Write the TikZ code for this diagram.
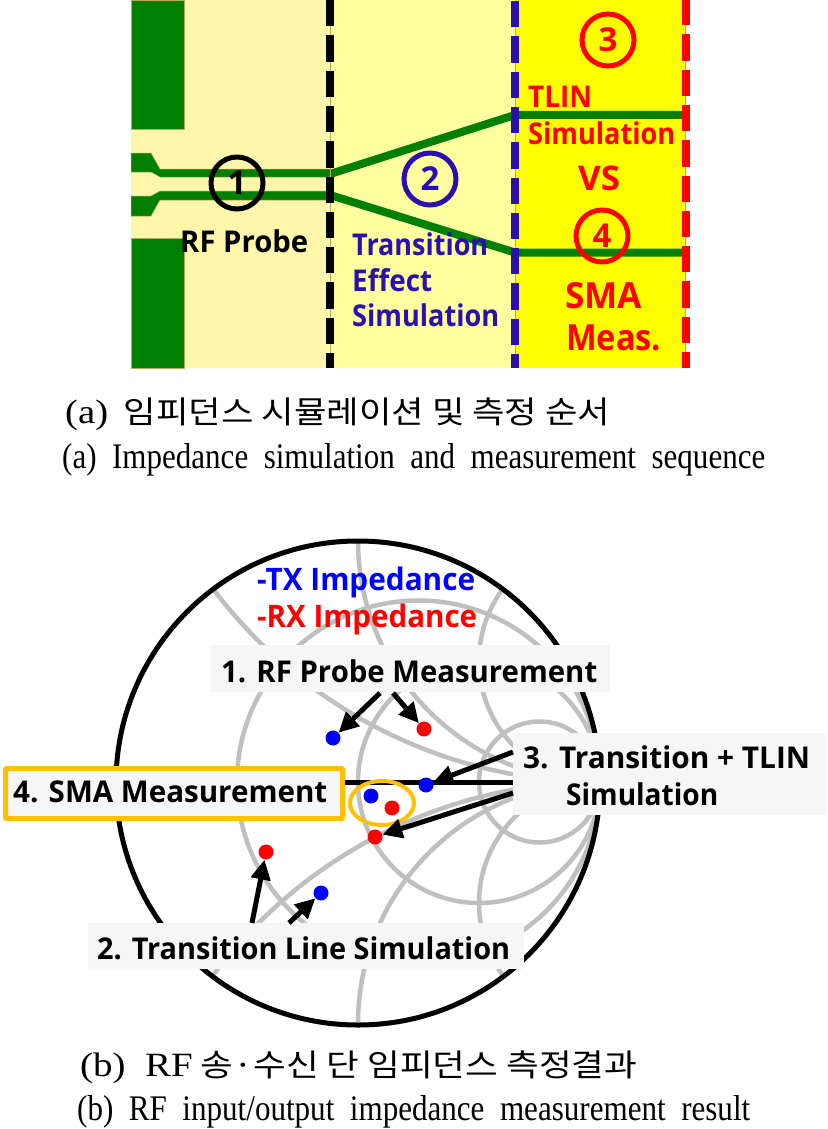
\documentclass[tikz,border=0pt]{standalone}
\usepackage{fontspec}
\usepackage{graphicx}
\usetikzlibrary{arrows.meta,shapes.geometric}
\setmainfont{Liberation Serif}
\newfontfamily\lab{Open Sans}
\newfontfamily\kr{Noto Sans CJK KR}
\newfontfamily\capser{Liberation Serif}
\newcommand{\fitx}[2]{\resizebox{#1pt}{\height}{#2}}
\definecolor{padgreen}{HTML}{008000}
\definecolor{bandA}{HTML}{FFF5AB}
\definecolor{bandB}{HTML}{FFFFA0}
\definecolor{bandC}{HTML}{FFFF00}
\definecolor{navy2}{HTML}{2A10B0}
\definecolor{tan2}{HTML}{B8A860}
\definecolor{smithgray}{HTML}{BFBFBF}
\definecolor{gold}{HTML}{FFC000}
\definecolor{boxgray}{HTML}{F6F6F6}
\tikzset{
  padshape/.style={fill=padgreen,draw=tan2,line width=0.5pt},
  trace/.style={draw=padgreen,line width=8pt},
  divider/.style={line width=8pt,dash pattern=on 26.3pt off 9pt},
  guide/.style={draw=tan2,line width=1pt},
  ringmark/.style={circle,line width=5pt,minimum size=52pt,inner sep=0pt,font=\lab\bfseries\fontsize{33}{33}\selectfont},
  ptxt/.style={anchor=west,inner sep=0pt,font=\lab\bfseries\fontsize{30}{30}\selectfont},
  capen/.style={anchor=west,inner sep=0pt,font=\capser\fontsize{36}{36}\selectfont},
  capkr/.style={anchor=west,inner sep=0pt,font=\kr\fontsize{31}{31}\selectfont},
  smith/.style={draw=smithgray,line width=4.5pt},
  outer/.style={draw=black,line width=5pt},
  lblbox/.style={fill=boxgray,inner sep=0pt,anchor=north west},
  dotb/.style={circle,fill=blue,minimum size=15pt,inner sep=0pt},
  dotr/.style={circle,fill=red,minimum size=15pt,inner sep=0pt},
  callout/.style={draw=black,line width=5pt,-{Triangle[length=20pt,width=19pt]}}
}
\begin{document}
\begin{tikzpicture}[x=1pt,y=-1pt]
\useasboundingbox (0,0) rectangle (827,1129);
\fill[white] (0,0) rectangle (827,1129);
% ---------- panel (a)
\fill[bandA] (131,0) rectangle (328,368);
\fill[bandB] (328,0) rectangle (515,368);
\fill[bandC] (515,0) rectangle (685,368);
\filldraw[padshape] (131,0) rectangle (184,129);
\filldraw[padshape] (131,238) rectangle (184,368);
\filldraw[padshape] (131,153) -- (151,153) -- (160,169) -- (330,169) -- (330,177) -- (160,177) -- (151,172) -- (131,172) -- cycle;
\filldraw[padshape] (131,196) -- (151,196) -- (160,191) -- (330,191) -- (330,200) -- (160,200) -- (151,216) -- (131,216) -- cycle;
\coordinate (upA) at (330,174);
\coordinate (upB) at (515,115);
\coordinate (upC) at (685,115);
\coordinate (loA) at (330,195);
\coordinate (loB) at (515,252.5);
\coordinate (loC) at (685,252.5);
\draw[trace] (upA) -- (upB) -- (upC);
\draw[trace] (loA) -- (loB) -- (loC);
\coordinate (d1t) at (330,0); \coordinate (d1b) at (330,368);
\coordinate (d2t) at (515,1); \coordinate (d2b) at (515,368);
\coordinate (d3t) at (686,-1); \coordinate (d3b) at (686,368);
\coordinate (g3t) at (685,0); \coordinate (g3b) at (685,368);
\draw[guide] (d1t) -- (d1b);
\draw[guide] (d2t) -- (d2b);
\draw[guide] (g3t) -- (g3b);
\draw[divider,draw=black] (d1t) -- (d1b);
\draw[divider,draw=navy2] (d2t) -- (d2b);
\draw[divider,draw=red] (d3t) -- (d3b);
\node[ringmark,draw=black,text=black] (r1) at (237,183) {1};
\node[ringmark,draw=navy2,text=navy2] (r2) at (430,179) {2};
\node[ringmark,draw=red,text=red] (r3) at (608,40) {3};
\node[ringmark,draw=red,text=red] (r4) at (602,236) {4};
\node[ptxt,text=black] (t1) at (180,241) {\fitx{128}{RF Probe}};
\node[ptxt,text=navy2] (t2) at (352,244) {\fitx{136}{Transition}};
\node[ptxt,text=navy2] (t3) at (352,280) {\fitx{80}{Effect}};
\node[ptxt,text=navy2] (t4) at (352,315) {\fitx{147}{Simulation}};
\node[ptxt,text=red] (t5) at (528,97) {\fitx{64}{TLIN}};
\node[ptxt,text=red] (t6) at (528,133) {\fitx{147}{Simulation}};
\node[ptxt,text=red,font=\lab\bfseries\fontsize{34}{34}\selectfont] (t7) at (578,178) {\fitx{42}{VS}};
\node[ptxt,text=red,font=\lab\bfseries\fontsize{36}{36}\selectfont] (t8) at (565,296) {\fitx{77}{SMA}};
\node[ptxt,text=red,font=\lab\bfseries\fontsize{36}{36}\selectfont] (t9) at (566,338) {\fitx{95}{Meas.}};
\node[capkr] (c1) at (65,414) {\fitx{545}{{\capser\fontsize{34}{34}\selectfont (a)}\ \ 임피던스\ 시뮬레이션\ 및\ 측정\ 순서}};
\node[capen] (c2) at (62,460) {\fitx{703}{(a)\ \ Impedance\ \ simulation\ \ and\ \ measurement\ \ sequence}};
\node[capkr] (c3) at (80,1067) {\fitx{557}{{\capser\fontsize{34}{34}\selectfont (b)\ \ RF}\ 송·수신\ 단\ 임피던스\ 측정결과}};
\node[capen] (c4) at (77,1112) {\fitx{673}{(b)\ \ RF\ \ input/output\ \ impedance\ \ measurement\ \ result}};
% ---------- panel (b)
\begin{scope}
\clip (358,783) circle (242);
\draw[smith] (418.5,782) circle (181.5);
\draw[smith] (479,782) circle (121);
\draw[smith] (539.5,782) circle (60.5);
\draw[smith] (600,298) circle (484);
\draw[smith] (600,1266) circle (484);
\draw[smith] (600,540) circle (242);
\draw[smith] (600,1024) circle (242);
\draw[smith] (600,661) circle (121);
\draw[smith] (600,903) circle (121);
\end{scope}
\draw[outer] (358,783) circle (242);
\node[ptxt,text=blue,font=\lab\bfseries\fontsize{31}{31}\selectfont] (tx) at (257,582) {\fitx{218}{-TX Impedance}};
\node[ptxt,text=red,font=\lab\bfseries\fontsize{31}{31}\selectfont] (rx) at (257,619) {\fitx{220}{-RX Impedance}};
\node[lblbox,minimum width=399pt,minimum height=47pt] (b1) at (211,645) {};
\node[lblbox,minimum width=314pt,minimum height=82pt] (b3) at (513,733) {};
\node[lblbox,minimum width=436pt,minimum height=46pt] (b2) at (88,923) {};
\node[lblbox,draw=gold,line width=5pt,rounded corners=1pt,minimum width=337pt,minimum height=50pt] (b4) at (3,766) {};
\draw[draw=black,line width=5pt] (b4.east |- 0,782) -- (b3.west |- 0,782);
\node[ptxt] (l1) at (221,671) {\fitx{376}{1. RF Probe Measurement}};
\node[ptxt] (l3a) at (523,757) {\fitx{287}{3. Transition + TLIN}};
\node[ptxt] (l3b) at (566,794) {\fitx{152}{Simulation}};
\node[ptxt] (l2) at (97,948) {\fitx{413}{2. Transition Line Simulation}};
\node[ptxt] (l4) at (13,792) {\fitx{314}{4. SMA Measurement}};
\node[dotb] (p1) at (333,738) {};
\node[dotr] (p2) at (424,729) {};
\node[dotb] (p3) at (426,785) {};
\node[dotr] (p4) at (375,837) {};
\node[dotr] (p5) at (266,852) {};
\node[dotb] (p6) at (321,893) {};
\node[dotb] (p7) at (371,796) {};
\node[dotr] (p8) at (392,808) {};
\node[draw=gold,line width=4pt,ellipse,inner sep=0pt,minimum width=64pt,minimum height=44pt] (ring) at (382,803) {};
\coordinate (s1a) at (380,693);
\coordinate (s1b) at (393,693);
\coordinate (s3a) at (513,752);
\coordinate (s3b) at (513,793);
\coordinate (s2a) at (252,923);
\coordinate (s2b) at (289,923);
\draw[callout] (s1a) -- (p1);
\draw[callout] (s1b) -- (p2);
\draw[callout] (s3a) -- (p3);
\draw[callout] (s3b) -- (p4);
\draw[callout] (s2a) -- (p5);
\draw[callout] (s2b) -- (p6);
\end{tikzpicture}
\end{document}
